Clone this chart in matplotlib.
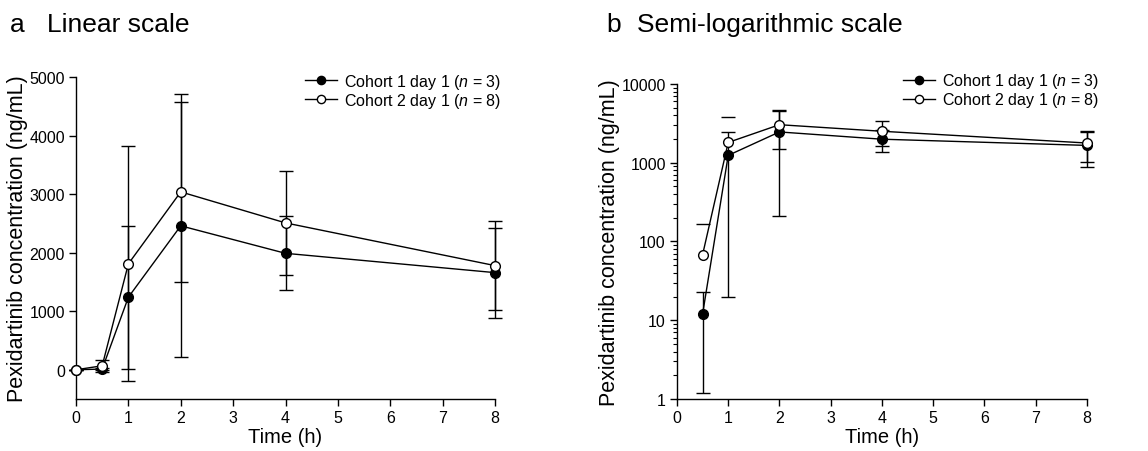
import numpy as np
import matplotlib
matplotlib.use("Agg")
import matplotlib.pyplot as plt

plt.rcParams['font.family'] = ['Liberation Sans', 'DejaVu Sans']
plt.rcParams['mathtext.fontset'] = 'custom'
plt.rcParams['mathtext.it'] = 'Liberation Sans:italic'
plt.rcParams['mathtext.rm'] = 'Liberation Sans'

time_h = [0, 0.5, 1, 2, 4, 8]
c1_mean = [0, 12, 1240, 2460, 1990, 1660]
c1_sd = [0, 10.8, 1220, 2250, 630, 770]
c2_mean = [0, 68, 1810, 3040, 2510, 1780]
c2_sd = [0, 100, 2010, 1540, 890, 760]
labels = ["Cohort 1 day 1 ($\\it{n}$ = 3)", "Cohort 2 day 1 ($\\it{n}$ = 8)"]
lin_yticks = [0, 1000, 2000, 3000, 4000, 5000]
log_yticks = [1, 10, 100, 1000, 10000]
xticks = [0, 1, 2, 3, 4, 5, 6, 7, 8]

fig = plt.figure(figsize=(11.48, 4.52), dpi=100)
axL = fig.add_axes([0.0662, 0.115, 0.365, 0.712])
axR = fig.add_axes([0.5897, 0.115, 0.357, 0.697])

styles = [dict(marker='o', mfc='black', mec='black'),
          dict(marker='o', mfc='white', mec='black')]
series = [(c1_mean, c1_sd), (c2_mean, c2_sd)]

def style_axes(ax):
    for s in ['top', 'right']:
        ax.spines[s].set_visible(False)
    for s in ['left', 'bottom']:
        ax.spines[s].set_linewidth(1.0)
    ax.tick_params(direction='out', length=5, width=1, labelsize=11.5, pad=3)
    ax.set_xlim(0, 8)
    ax.set_xticks(xticks)
    ax.set_xlabel("Time (h)", fontsize=14.5, labelpad=1)
    ax.set_ylabel("Pexidartinib concentration (ng/mL)", fontsize=15.5, labelpad=1)

legend_kw = dict(frameon=False, fontsize=11.5, handlelength=2, handletextpad=0.45,
                 labelspacing=0.0, borderaxespad=0, markerscale=0.85, loc='upper right')

# Linear
for (m, sd), st, lab in zip(series, styles, labels):
    t = np.array(time_h); m = np.array(m, float); sd = np.array(sd, float)
    axL.errorbar(t, m, yerr=sd, fmt='none', ecolor='black', elinewidth=1,
                 capsize=5, capthick=1, clip_on=False, zorder=2)
    axL.plot(t, m, color='black', lw=1, ms=7, label=lab, clip_on=False, zorder=3, **st)
axL.set_ylim(-500, 5000)
axL.set_yticks(lin_yticks)
style_axes(axL)
axL.legend(bbox_to_anchor=(1.03, 1.037), **legend_kw)

# Log
for (m, sd), st, lab in zip(series, styles, labels):
    t = np.array(time_h); m = np.array(m, float); sd = np.array(sd, float)
    keep = m > 0
    t, m, sd = t[keep], m[keep], sd[keep]
    lower = np.where(m - sd > 0, sd, np.nan)
    axR.errorbar(t, m, yerr=[lower, sd], fmt='none', ecolor='black', elinewidth=1,
                 capsize=5, capthick=1, clip_on=False, zorder=2)
    axR.plot(t, m, color='black', lw=1, ms=7, label=lab, clip_on=False, zorder=3, **st)
axR.set_yscale('log')
axR.set_ylim(1, 10000)
axR.set_yticks(log_yticks)
axR.set_yticklabels([str(v) for v in log_yticks])
axR.tick_params(which='minor', direction='out', length=3, width=0.8)
style_axes(axR)
axR.legend(bbox_to_anchor=(1.045, 1.06), **legend_kw)

fig.text(10/1148, 1 - 32/452, "a", fontsize=19, va='baseline', ha='left')
fig.text(47/1148, 1 - 32/452, "Linear scale", fontsize=19, va='baseline', ha='left')
fig.text(606/1148, 1 - 32/452, "b", fontsize=19, va='baseline', ha='left')
fig.text(637/1148, 1 - 32/452, "Semi-logarithmic scale", fontsize=19, va='baseline', ha='left')

fig.savefig("out.png", dpi=100)
